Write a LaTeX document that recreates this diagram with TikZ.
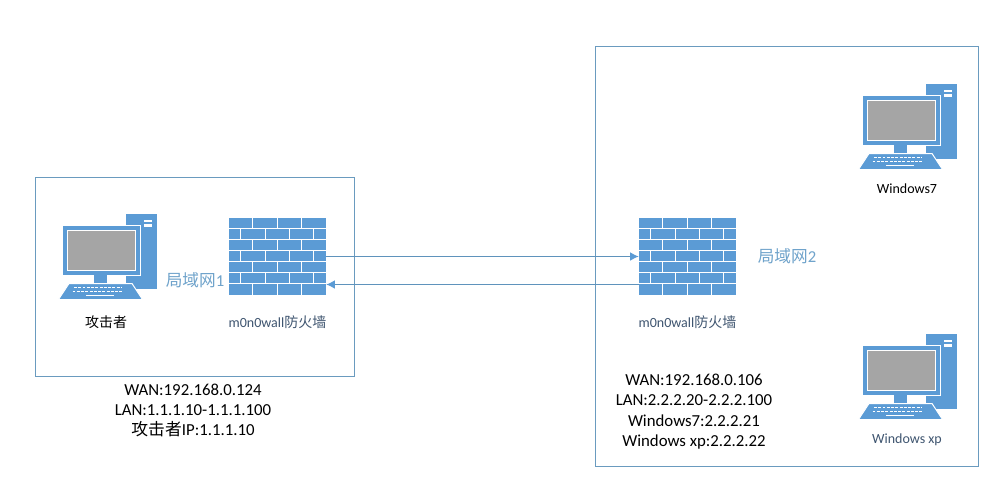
\documentclass[tikz,border=0pt]{standalone}
\usepackage{fontspec}
\setmainfont{Carlito}
\newfontfamily\cjk{Noto Sans CJK SC}
\usetikzlibrary{arrows.meta}
\definecolor{iconblue}{HTML}{5B9BD5}
\definecolor{screengray}{HTML}{A5A5A5}
\definecolor{boxline}{HTML}{6A9BBF}
\definecolor{linkline}{HTML}{5F93BC}
\definecolor{navy}{HTML}{3F5570}
\definecolor{lanblue}{HTML}{6FA3CB}
\tikzset{
  netbox/.style={draw=boxline,line width=0.75pt,fill=none},
  link/.style={draw=linkline,line width=0.75pt,-{Latex[length=6.5pt,width=6.5pt,color=iconblue]}},
  firewall/.style={inner sep=0pt,minimum width=72.75pt,minimum height=57.75pt,fill=iconblue},
  bricks/.pic={
    \foreach \r in {1,...,6}{\draw[white,line width=0.75pt] (0,11*\r) -- (97,11*\r);}
    \foreach \r in {0,2,4,6}{\foreach \c in {1,2,3}{\draw[white,line width=0.75pt] (24.25*\c,11*\r) -- ++(0,11);}}
    \foreach \r in {1,3,5}{\foreach \c in {1,3,5,7}{\draw[white,line width=0.75pt] (12.125*\c,11*\r) -- ++(0,11);}}
  },
  blacktext/.style={text=black,font=\fontsize{12.6}{15.2}\selectfont,align=center,inner sep=0pt},
  smalltext/.style={inner sep=0pt,font=\fontsize{10.5}{13}\selectfont},
  lantext/.style={inner sep=0pt,text=lanblue,font=\fontsize{12.5}{14}\selectfont},
  computer/.pic={
    % tower
    \fill[iconblue] (0,0) rectangle (31,75);
    \fill[white] (18.3,5.5) rectangle (25.7,8);
    \fill[white] (18.3,9.5) rectangle (25.7,12.5);
    % monitor
    \fill[iconblue,draw=white,line width=0.75pt] (-63.5,11) rectangle (14,61);
    \fill[screengray,draw=white,line width=0.75pt] (-59,16) rectangle (9,56);
    % stand
    \fill[iconblue] (-32,61) rectangle (-19,69);
    % keyboard
    \fill[iconblue,draw=white,line width=0.75pt] (-57,69.5) -- (6,69.5) -- (16.5,85.5) -- (-67.5,85.5) -- cycle;
    \draw[white,line width=1.1pt,dash pattern=on 2.2pt off 1pt] (-52,73.5) -- (-4.5,73.5);
    \draw[white,line width=1.1pt,dash pattern=on 2.2pt off 1pt] (-53.5,77.5) -- (-3,77.5);
    \draw[white,line width=1.1pt] (-40,81.7) -- (-12,81.7);
  }
}
\begin{document}
\begin{tikzpicture}[x=0.75pt,y=-0.75pt]
\useasboundingbox (0,0) rectangle (993,486);
\fill[white] (0,0) rectangle (993,486);
\node[netbox,inner sep=0pt,minimum width=239.25pt,minimum height=149.25pt] (lan1) at (195,276.5) {};
\node[netbox,inner sep=0pt,minimum width=287.25pt,minimum height=315pt] (lan2) at (787,256) {};

\pic at (126,214) {computer};
\pic at (926,84) {computer};
\pic at (926,334) {computer};

\node[firewall] (fw1) at (277.5,256.5) {};
\node[firewall] (fw2) at (687.5,256.5) {};
\pic at (fw1.north west) {bricks};
\pic at (fw2.north west) {bricks};

\draw[link] (fw1.east) -- (fw2.west);
\draw[link] ([yshift=-21pt]fw2.west) -- ([yshift=-21pt]fw1.east);

\node[smalltext,text=black] (attacker) at (106,322) {\cjk 攻击者};
\node[smalltext,text=navy] (fwlabel1) at (277.5,322) {m0n0wall{\cjk 防火墙}};
\node[smalltext,text=navy] (fwlabel2) at (687.5,322) {m0n0wall{\cjk 防火墙}};
\node[lantext] (lanlabel1) at (195,280) {{\cjk 局域网}1};
\node[lantext] (lanlabel2) at (787,256.5) {{\cjk 局域网}2};
\node[smalltext,text=black] (win7) at (907,189) {Windows7};
\node[smalltext,text=navy] (winxp) at (907,440) {Windows xp};
\node[blacktext] (info1) at (193,410.5) {WAN:192.168.0.124\\LAN:1.1.1.10-1.1.1.100\\{\cjk 攻击者}IP:1.1.1.10};
\node[blacktext] (info2) at (694,411.5) {WAN:192.168.0.106\\LAN:2.2.2.20-2.2.2.100\\Windows7:2.2.2.21\\Windows xp:2.2.2.22};
\end{tikzpicture}
\end{document}
